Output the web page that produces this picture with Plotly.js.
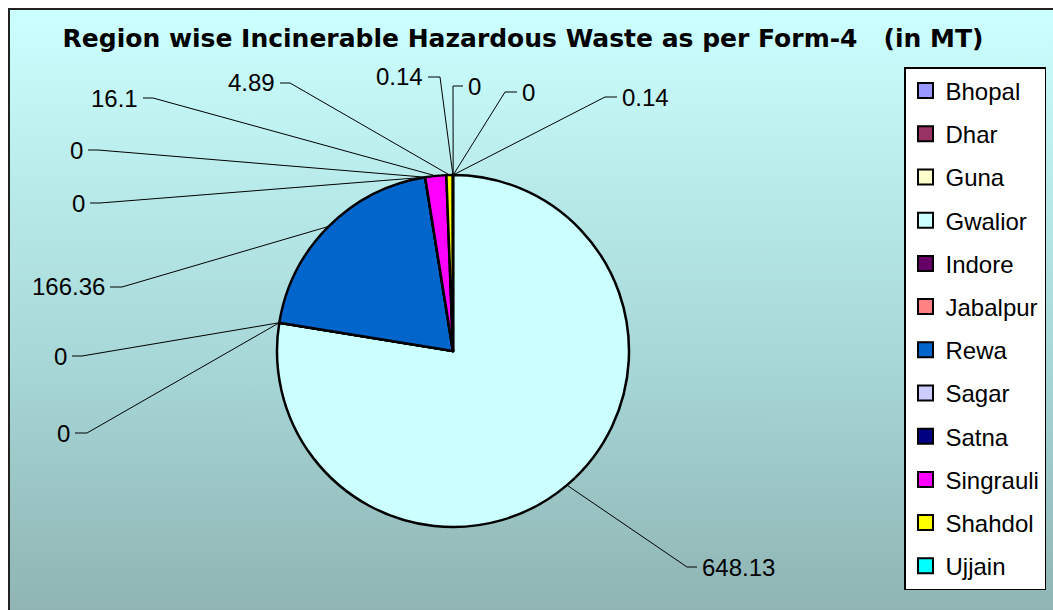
<!DOCTYPE html>
<html>
<head>
<meta charset="utf-8">
<script src="https://cdn.plot.ly/plotly-3.0.1.min.js"></script>
<style>
  html, body { margin: 0; padding: 0; background: #ffffff; }
  #wrap { position: relative; width: 1053px; height: 610px; overflow: hidden; background: #ffffff; }
  #bg { position: absolute; left: 8px; top: 8px; width: 1045px; height: 602px;
        border-left: 2px solid #222; border-top: 2px solid #222;
        background: linear-gradient(to bottom, #ccffff 0%, #b9eaea 30%, #a6d6d6 60%, #8fb4b3 100%); }
  #chart { position: absolute; left: 0; top: 0; width: 1053px; height: 610px; }
</style>
</head>
<body>
<div id="wrap"><div id="bg"></div><div id="chart"></div></div>
<script>
// ---- data ----
const categories = ["Bhopal", "Dhar", "Guna", "Gwalior", "Indore", "Jabalpur", "Rewa", "Sagar", "Satna", "Singrauli", "Shahdol", "Ujjain"];
const values = [0.14, 0, 0, 648.13, 0, 0, 166.36, 0, 0, 16.1, 4.89, 0.14];
const colors = ["#9999ff", "#993366", "#ffffcc", "#ccffff", "#660066", "#ff8080", "#0066cc", "#ccccff", "#000080", "#ff00ff", "#ffff00", "#00ffff"];
const chartTitle = "Region wise Incinerable Hazardous Waste as per Form-4\u00a0\u00a0\u00a0(in MT)";

// ---- layout (positions, not data) ----
const W = 1053, H = 610;
const CX = 453, CY = 351, R = 176;
const labelLayout = [
  {side: 'R', t0: 605, t1: 617, y: 97},   // Bhopal
  {side: 'R', t0: 453, t1: 463, y: 86},   // Dhar
  {side: 'R', t0: 505, t1: 517, y: 92},   // Guna
  {side: 'R', t0: 687, t1: 697, y: 567},  // Gwalior
  {side: 'L', t0: 75, t1: 87, y: 433},    // Indore
  {side: 'L', t0: 72, t1: 82, y: 356},    // Jabalpur
  {side: 'L', t0: 110, t1: 122, y: 287},  // Rewa
  {side: 'L', t0: 90, t1: 100, y: 203},   // Sagar
  {side: 'L', t0: 88, t1: 98, y: 150},    // Satna
  {side: 'L', t0: 143, t1: 153, y: 98},   // Singrauli
  {side: 'L', t0: 280, t1: 290, y: 83},   // Shahdol
  {side: 'L', t0: 428, t1: 440, y: 77}    // Ujjain
];

const FONT = "Liberation Sans, Arial, sans-serif";
const TITLE_FONT = "DejaVu Sans, Liberation Sans, Arial, sans-serif";
const px = x => x / W;
const py = y => 1 - y / H;

const total = values.reduce((a, b) => a + b, 0);
let cum = 0;
const annotations = [];
const shapes = [];
values.forEach((v, i) => {
  const mid = (cum + v / 2) / total * 2 * Math.PI;
  cum += v;
  const ex = CX + R * Math.sin(mid);
  const ey = CY - R * Math.cos(mid);
  const L = labelLayout[i];
  const joinX = L.side === 'L' ? L.t1 : L.t0;
  const outX = L.side === 'L' ? L.t0 : L.t1;
  shapes.push({
    type: 'path', xref: 'paper', yref: 'paper',
    path: `M ${px(outX)},${py(L.y)} L ${px(joinX)},${py(L.y)} L ${px(ex)},${py(ey)}`,
    line: {color: '#000000', width: 1}
  });
  annotations.push({
    xref: 'paper', yref: 'paper',
    x: px(L.side === 'L' ? L.t0 - 3 : L.t1 + 3), y: py(L.y),
    xanchor: L.side === 'L' ? 'right' : 'left', yanchor: 'middle',
    text: String(v), showarrow: false,
    font: {family: FONT, size: 24, color: '#000000'}
  });
});

const pieTrace = {
  type: 'pie',
  labels: categories,
  values: values,
  sort: false,
  direction: 'clockwise',
  rotation: 0,
  textinfo: 'none',
  hoverinfo: 'label+value',
  showlegend: false,
  marker: {colors: colors, line: {color: '#000000', width: 2.5}},
  domain: {x: [px(CX - R), px(CX + R)], y: [py(CY + R), py(CY - R)]}
};

const legendTraces = categories.map((c, i) => ({
  type: 'scatter', mode: 'markers',
  x: [null], y: [null],
  name: c, legendgroup: c,
  marker: {symbol: 'square', size: 15, color: colors[i], line: {color: '#000000', width: 2}},
  hoverinfo: 'skip'
}));

const layout = {
  width: W, height: H,
  margin: {l: 0, r: 0, t: 0, b: 0},
  paper_bgcolor: 'rgba(0,0,0,0)',
  plot_bgcolor: 'rgba(0,0,0,0)',
  title: {
    text: '<b>' + chartTitle + '</b>',
    x: 523 / W, xanchor: 'center', xref: 'paper',
    y: 1 - 38 / H, yanchor: 'middle', yref: 'paper',
    font: {family: TITLE_FONT, size: 25, color: '#000000'}
  },
  xaxis: {visible: false},
  yaxis: {visible: false},
  showlegend: true,
  legend: {
    x: px(904), y: py(67), xanchor: 'left', yanchor: 'top',
    bgcolor: '#ffffff', bordercolor: '#000000', borderwidth: 1.5,
    font: {family: FONT, size: 24, color: '#000000'},
    tracegroupgap: 9,
    itemclick: false, itemdoubleclick: false
  },
  annotations: annotations,
  shapes: shapes
};

Plotly.newPlot('chart', [pieTrace].concat(legendTraces), layout, {staticPlot: true, displayModeBar: false});
</script>
</body>
</html>
